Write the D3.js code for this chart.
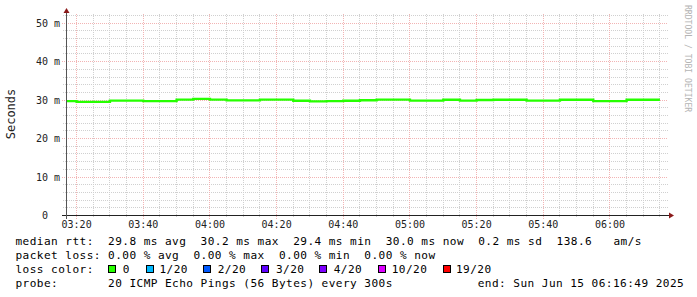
<!DOCTYPE html>
<html><head><meta charset="utf-8">
<script src="https://cdn.jsdelivr.net/npm/d3@7"></script>
<style>
html,body{margin:0;padding:0;background:#fff;}
text{font-family:"DejaVu Sans Mono",monospace;white-space:pre;}
</style>
</head><body>
<svg id="c" width="697" height="297" xmlns="http://www.w3.org/2000/svg"></svg>
<script>
// ---- data ----
const sampleTimes = ["03:20","03:25","03:30","03:35","03:40","03:45","03:50","03:55","04:00","04:05","04:10","04:15",
  "04:20","04:25","04:30","04:35","04:40","04:45","04:50","04:55","05:00","05:05","05:10","05:15",
  "05:20","05:25","05:30","05:35","05:40","05:45","05:50","05:55","06:00","06:05","06:10","06:15"];
const medianRtt = [29.6,29.4,29.4,29.75,29.75,29.6,29.6,30.0,30.2,30.0,29.8,29.8,
  30.0,30.0,29.7,29.55,29.6,29.7,29.85,30.0,30.0,29.75,29.75,29.95,
  29.75,29.9,29.95,29.95,29.75,29.75,29.95,29.95,29.6,29.6,29.95,29.95];
const lossCount = [0,0,0,0,0,0,0,0,0,0,0,0,0,0,0,0,0,0,0,0,0,0,0,0,0,0,0,0,0,0,0,0,0,0,0,0];
const endTime = "2025-06-15 06:16:49";
const yTicks = [0,10,20,30,40,50];
const yTickLabels = ["0  ","10 m","20 m","30 m","40 m","50 m"];
const xTickLabels = ["03:20","03:40","04:00","04:20","04:40","05:00","05:20","05:40","06:00"];
const lossLevels = ["0","1/20","2/20","3/20","4/20","10/20","19/20"];
const lossThreshold = [0,1,2,3,4,10,19];
const lossColors = ["#26ff00","#00b8ff","#0059ff","#5e00ff","#7e00ff","#dd00ff","#ff0000"];
const statLines = [
  "median rtt:  29.8 ms avg  30.2 ms max  29.4 ms min  30.0 ms now  0.2 ms sd  138.6   am/s",
  "packet loss: 0.00 % avg  0.00 % max  0.00 % min  0.00 % now"
];
const lossLabel = "loss color:";
const probeLabel = "probe:       20 ICMP Echo Pings (56 Bytes) every 300s";
const endLabel = "end: Sun Jun 15 06:16:49 2025";
const yTitle = "Seconds";
const watermark = "RRDTOOL / TOBI OETIKER";

// ---- setup ----
const svg = d3.select("#c");
svg.append("rect").attr("width",697).attr("height",297).attr("fill","#fff");
const parseFull = d3.timeParse("%Y-%m-%d %H:%M:%S");
const tEnd = parseFull(endTime);
const tStart = new Date(tEnd.getTime() - 3*3600*1000);
const parseT = s => parseFull("2025-06-15 " + s + ":00");
const fmt = d3.timeFormat("%H:%M");

const x = d3.scaleTime().domain([tStart, tEnd]).range([66, 666]);
const y = d3.scaleLinear().domain([0, 52]).range([215, 15]);
const px = v => Math.floor(x(v)) + 0.5;
const py = v => Math.round(y(v)) + 0.5;

const grid = svg.append("g").attr("shape-rendering","crispEdges");
const minorC = "#d0d0d0", majorC = "#f2b4b4";
// minor horizontal
d3.range(2, 53, 2).filter(v => v % 10 !== 0).forEach(v => {
  grid.append("line").attr("x1",63).attr("x2",668).attr("y1",py(v)).attr("y2",py(v))
    .attr("stroke",minorC).attr("stroke-dasharray","1,1");
});
// minor vertical
d3.timeMinute.every(5).range(tStart, tEnd).filter(t => t.getMinutes() % 20 !== 0).forEach(t => {
  grid.append("line").attr("x1",px(t)).attr("x2",px(t)).attr("y1",14).attr("y2",217)
    .attr("stroke",minorC).attr("stroke-dasharray","1,1");
});
// major horizontal
yTicks.filter(v => v > 0).forEach(v => {
  grid.append("line").attr("x1",62).attr("x2",668).attr("y1",py(v)).attr("y2",py(v))
    .attr("stroke",majorC).attr("stroke-dasharray","1,1");
});
// major vertical
const majorTimes = xTickLabels.map(parseT);
majorTimes.forEach(t => {
  grid.append("line").attr("x1",px(t)).attr("x2",px(t)).attr("y1",14).attr("y2",219)
    .attr("stroke",majorC).attr("stroke-dasharray","1,1");
});

// ---- data line ----
svg.append("defs").append("clipPath").attr("id","clip")
  .append("rect").attr("x",67).attr("y",10).attr("width",600).attr("height",210);
const pts = sampleTimes.map((s,i) => [new Date(parseT(s).getTime() - 300000), medianRtt[i], lossCount[i]]);
const lastT = parseT(sampleTimes[sampleTimes.length-1]);
pts.push([lastT, medianRtt[medianRtt.length-1], lossCount[lossCount.length-1]]);
const colorFor = l => { let c = lossColors[0]; lossThreshold.forEach((th,i)=>{ if (l >= th) c = lossColors[i]; }); return c; };
const line = d3.line().x(d => x(d[0])).y(d => y(d[1])).curve(d3.curveStepAfter);
svg.append("path").attr("clip-path","url(#clip)")
  .attr("d", line(pts)).attr("fill","none")
  .attr("stroke", colorFor(d3.max(lossCount))).attr("stroke-width",2.4);

// ---- axes ----
const ax = svg.append("g").attr("shape-rendering","crispEdges");
ax.append("line").attr("x1",62).attr("x2",670).attr("y1",215.5).attr("y2",215.5).attr("stroke","#222");
ax.append("line").attr("x1",66.5).attr("x2",66.5).attr("y1",12).attr("y2",219).attr("stroke","#555");
svg.append("path").attr("d","M66.5,8 L63.5,13 L69.5,13 Z").attr("fill","#8b1a1a");
svg.append("path").attr("d","M674,215.5 L669,212.5 L669,218.5 Z").attr("fill","#8b1a1a");

// y tick labels
yTicks.forEach((v,i) => {
  svg.append("text").attr("x",60).attr("y",py(v)+3.5).attr("text-anchor","end")
    .attr("font-size","10px").attr("fill","#222").text(yTickLabels[i]);
});
// x tick labels
majorTimes.forEach((t,i) => {
  svg.append("text").attr("x",x(t)).attr("y",228).attr("text-anchor","middle")
    .attr("font-size","10px").attr("fill","#222").text(fmt(t));
});
// y title
svg.append("text").attr("transform","translate(15,114) rotate(-90)").attr("text-anchor","middle")
  .attr("font-size","12px").attr("fill","#222").text(yTitle);
// watermark
svg.append("text").attr("transform","translate(684.5,5) rotate(90)").attr("text-anchor","start")
  .attr("font-size","8.1px").attr("fill","#b4b4b4").text(watermark);

// ---- legend ----
const lg = svg.append("g").attr("font-size","11.1px").attr("fill","#000");
const ls = "0.44px";
statLines.forEach((s,i) => {
  lg.append("text").attr("x",15.5).attr("y",245 + i*14).attr("letter-spacing",ls).text(s);
});
lg.append("text").attr("x",15.5).attr("y",273).attr("letter-spacing",ls).text(lossLabel);
const boxX = [108, 145.5, 203, 261, 319, 377.5, 442.5];
const txtX = [122.7, 159.4, 217.7, 276, 333.7, 391.7, 456];
lossLevels.forEach((l,i) => {
  lg.append("rect").attr("x",boxX[i]+0.5).attr("y",265.5).attr("width",7).attr("height",7)
    .attr("fill",lossColors[i]).attr("stroke","#000").attr("stroke-width",1).attr("shape-rendering","crispEdges");
  lg.append("text").attr("x",txtX[i]).attr("y",273).attr("letter-spacing",ls).text(l);
});
lg.append("text").attr("x",15.5).attr("y",287).attr("letter-spacing",ls).text(probeLabel);
lg.append("text").attr("x",477.7).attr("y",287).attr("letter-spacing",ls).text(endLabel);
</script>
</body></html>
